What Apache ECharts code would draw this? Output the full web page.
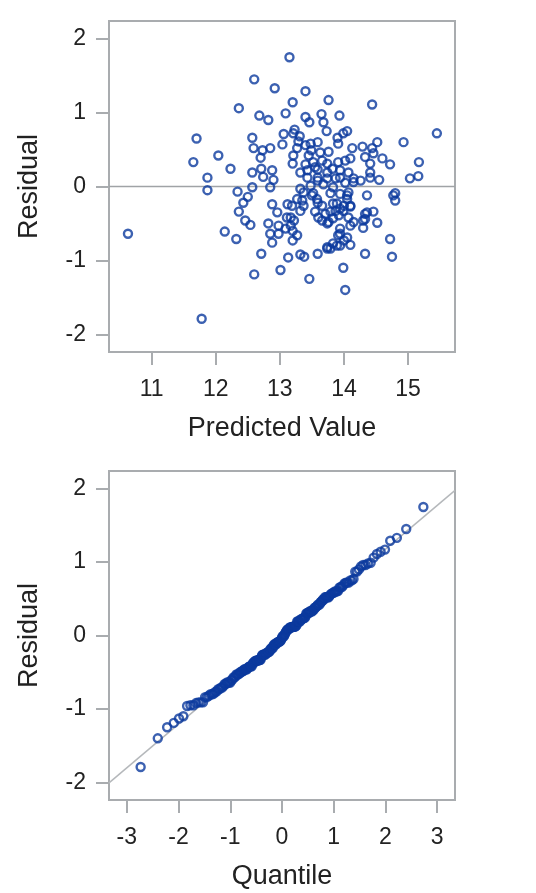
<!DOCTYPE html>
<html>
<head>
<meta charset="utf-8">
<script src="https://cdn.jsdelivr.net/npm/echarts@6/dist/echarts.min.js"></script>
<style>
html,body{margin:0;padding:0;background:#fff;}
#chart{width:536px;height:893px;}
</style>
</head>
<body>
<div id="chart"></div>
<script>
// ---- Data ----
const predicted = [
13.15,12.60,12.92,13.40,13.76,13.20,14.44,12.36,13.09,12.68,
12.82,13.40,13.65,13.93,13.46,13.68,13.23,13.73,14.05,15.45,
11.70,12.57,13.06,13.31,13.90,13.99,13.91,14.52,14.93,13.59,
13.04,12.85,12.59,12.73,13.27,13.40,13.49,13.63,13.76,14.13,
14.29,12.04,12.70,13.21,13.45,14.10,14.46,14.60,11.65,13.20,
13.40,13.52,13.74,13.91,14.41,14.72,15.17,12.23,12.71,12.88,
12.57,13.32,13.59,13.74,13.94,14.07,14.41,13.43,13.59,13.74,
13.94,14.15,14.26,14.41,14.55,15.03,15.16,11.87,12.90,12.57,
12.85,13.32,13.83,11.87,12.34,14.80,12.50,13.52,13.79,14.05,
14.36,14.77,14.80,12.43,12.88,13.12,13.35,13.59,13.83,14.10,
12.36,12.96,13.32,13.55,13.79,13.99,14.33,14.46,13.17,13.60,
13.83,14.07,14.30,14.52,12.46,12.54,12.82,12.98,14.10,14.30,
13.74,12.85,12.98,13.20,13.27,13.20,13.94,14.05,10.63,12.14,
12.32,12.88,14.72,13.83,13.94,14.10,13.74,13.79,12.71,13.13,
13.32,13.38,13.59,14.33,14.75,12.60,13.01,13.99,13.46,14.02,
11.78,
13.29,13.48,13.21,14.44,13.43,13.55,14.33,14.15,13.59,12.74,
13.66,13.89,13.71,13.87,13.94,13.66,13.76,13.92,14.00,14.05,
13.94,13.58,13.50,13.37,13.27,13.19,13.37,13.11,13.22,13.17,
13.09,13.94,13.91,14.00,13.89,13.74,14.36,14.33,14.15,14.07,
14.10,13.66,13.82,14.02,13.87,14.02,13.68,13.48
];
const residual = [
1.75,1.45,1.33,1.29,1.17,1.14,1.11,1.06,0.99,0.96,
0.90,0.94,0.98,0.96,0.87,0.87,0.77,0.75,0.75,0.72,
0.65,0.66,0.71,0.68,0.66,0.72,0.58,0.60,0.60,0.60,
0.57,0.52,0.52,0.49,0.52,0.56,0.49,0.46,0.47,0.52,
0.54,0.42,0.39,0.42,0.42,0.38,0.45,0.38,0.33,0.31,
0.30,0.33,0.31,0.33,0.31,0.30,0.33,0.24,0.24,0.22,
0.19,0.19,0.23,0.19,0.22,0.19,0.19,0.12,0.12,0.11,
0.12,0.11,0.08,0.12,0.09,0.11,0.14,0.12,0.09,-0.01,
-0.01,-0.03,-0.01,-0.05,-0.07,-0.09,-0.14,-0.09,-0.09,-0.12,
-0.12,-0.12,-0.19,-0.22,-0.24,-0.24,-0.19,-0.22,-0.23,-0.27,
-0.34,-0.35,-0.33,-0.34,-0.34,-0.33,-0.37,-0.34,-0.42,-0.42,
-0.43,-0.42,-0.46,-0.49,-0.46,-0.52,-0.50,-0.53,-0.53,-0.56,
-0.50,-0.64,-0.64,-0.60,-0.66,-0.73,-0.64,-0.69,-0.64,-0.61,
-0.71,-0.76,-0.71,-0.77,-0.80,-0.79,-0.84,-0.84,-0.91,-0.96,
-0.92,-0.95,-0.91,-0.91,-0.95,-1.19,-1.13,-1.10,-1.25,-1.40,
-1.79,
0.61,0.58,0.72,0.52,0.22,0.26,0.40,0.06,0.08,0.13,
-0.26,-0.23,-0.37,-0.33,-0.30,-0.46,-0.48,-0.39,-0.26,-0.17,
-0.10,-0.17,-0.12,-0.08,-0.17,-0.26,-0.26,-0.42,-0.46,-0.53,
-0.57,-0.57,-0.66,-0.73,-0.80,-0.82,-0.35,-0.44,-0.48,-0.08,
-0.26,0.35,0.24,0.35,0.11,0.05,0.03,0.01
];
const predictedTicks = [11, 12, 13, 14, 15];
const residualTicks = [-2, -1, 0, 1, 2];
const quantileTicks = [-3, -2, -1, 0, 1, 2, 3];

// ---- inverse normal CDF (Acklam) for the Q-Q plot ----
function normInv(p) {
  const a=[-3.969683028665376e+01,2.209460984245205e+02,-2.759285104469687e+02,1.383577518672690e+02,-3.066479806614716e+01,2.506628277459239e+00];
  const b=[-5.447609879822406e+01,1.615858368580409e+02,-1.556989798598866e+02,6.680131188771972e+01,-1.328068155288572e+01];
  const c=[-7.784894002430293e-03,-3.223964580411365e-01,-2.400758277161838e+00,-2.549732539343734e+00,4.374664141464968e+00,2.938163982698783e+00];
  const d=[7.784695709041462e-03,3.224671290700398e-01,2.445134137142996e+00,3.754408661907416e+00];
  const pl=0.02425, ph=1-pl; let q,r;
  if (p<pl){q=Math.sqrt(-2*Math.log(p));return (((((c[0]*q+c[1])*q+c[2])*q+c[3])*q+c[4])*q+c[5])/((((d[0]*q+d[1])*q+d[2])*q+d[3])*q+1);}
  if (p<=ph){q=p-0.5;r=q*q;return (((((a[0]*r+a[1])*r+a[2])*r+a[3])*r+a[4])*r+a[5])*q/(((((b[0]*r+b[1])*r+b[2])*r+b[3])*r+b[4])*r+1);}
  q=Math.sqrt(-2*Math.log(1-p));return -(((((c[0]*q+c[1])*q+c[2])*q+c[3])*q+c[4])*q+c[5])/((((d[0]*q+d[1])*q+d[2])*q+d[3])*q+1);
}

const n = residual.length;
const sorted = residual.slice().sort((x, y) => x - y);
const qqData = sorted.map((v, i) => [normInv((i + 1 - 0.375) / (n + 0.25)), v]);
const mean = residual.reduce((s, v) => s + v, 0) / n;
const sd = Math.sqrt(residual.reduce((s, v) => s + (v - mean) ** 2, 0) / (n - 1));

const scatterData = predicted.map((p, i) => [p, residual[i]]);

const X1 = [10.334, 15.733];
const Y = [-2.24, 2.24];
const X2 = [-3.345, 3.345];
const qqLine = [[X2[0], mean + sd * X2[0]], [X2[1], mean + sd * X2[1]]];

const FRAME = '#a9acaf';
const TXT = '#222';
const BLUE = '#0b3a9e';
const FONT = '"Liberation Sans", Arial, sans-serif';

function xAx(gridIndex, range, ticks, name) {
  return {
    type: 'value', gridIndex, min: range[0], max: range[1],
    name, nameLocation: 'middle', nameGap: 63,
    nameTextStyle: { fontSize: 27, color: TXT, fontFamily: FONT },
    axisLine: { show: false, onZero: false },
    axisTick: { show: true, length: 13, customValues: ticks, lineStyle: { color: FRAME, width: 2 } },
    axisLabel: { customValues: ticks, margin: 26, fontSize: 23, color: TXT, fontFamily: FONT },
    splitLine: { show: false }
  };
}
function yAx(gridIndex, name) {
  return {
    type: 'value', gridIndex, min: Y[0], max: Y[1],
    name, nameLocation: 'middle', nameGap: 66, nameRotate: 90,
    nameTextStyle: { fontSize: 27, color: TXT, fontFamily: FONT },
    axisLine: { show: false, onZero: false },
    axisTick: { show: true, length: 13, customValues: residualTicks, lineStyle: { color: FRAME, width: 2 } },
    axisLabel: { customValues: residualTicks, margin: 23, fontSize: 23, color: TXT, fontFamily: FONT },
    splitLine: { show: false }
  };
}

const chart = echarts.init(document.getElementById('chart'), null, { renderer: 'canvas' });
chart.setOption({
  animation: false,
  backgroundColor: '#fff',
  grid: [
    { left: 109, top: 21, width: 346, height: 331, show: true, borderColor: FRAME, borderWidth: 2, backgroundColor: 'transparent' },
    { left: 109, top: 471, width: 346, height: 329, show: true, borderColor: FRAME, borderWidth: 2, backgroundColor: 'transparent' }
  ],
  xAxis: [
    xAx(0, X1, predictedTicks, 'Predicted Value'),
    xAx(1, X2, quantileTicks, 'Quantile')
  ],
  yAxis: [yAx(0, 'Residual'), yAx(1, 'Residual')],
  series: [
    {
      type: 'line', xAxisIndex: 0, yAxisIndex: 0,
      data: [[X1[0], 0], [X1[1], 0]], showSymbol: false, silent: true,
      lineStyle: { color: '#a0a3a6', width: 1.5 }, z: 1
    },
    {
      type: 'scatter', xAxisIndex: 0, yAxisIndex: 0, data: scatterData,
      symbol: 'circle', symbolSize: 8,
      itemStyle: { color: 'transparent', borderColor: BLUE, borderWidth: 2.4 }, z: 2
    },
    {
      type: 'line', xAxisIndex: 1, yAxisIndex: 1, data: qqLine,
      showSymbol: false, silent: true,
      lineStyle: { color: '#b5b8bb', width: 1.5 }, z: 1
    },
    {
      type: 'scatter', xAxisIndex: 1, yAxisIndex: 1, data: qqData,
      symbol: 'circle', symbolSize: 8,
      itemStyle: { color: 'transparent', borderColor: BLUE, borderWidth: 2.4 }, z: 2
    }
  ]
});
</script>
</body>
</html>
